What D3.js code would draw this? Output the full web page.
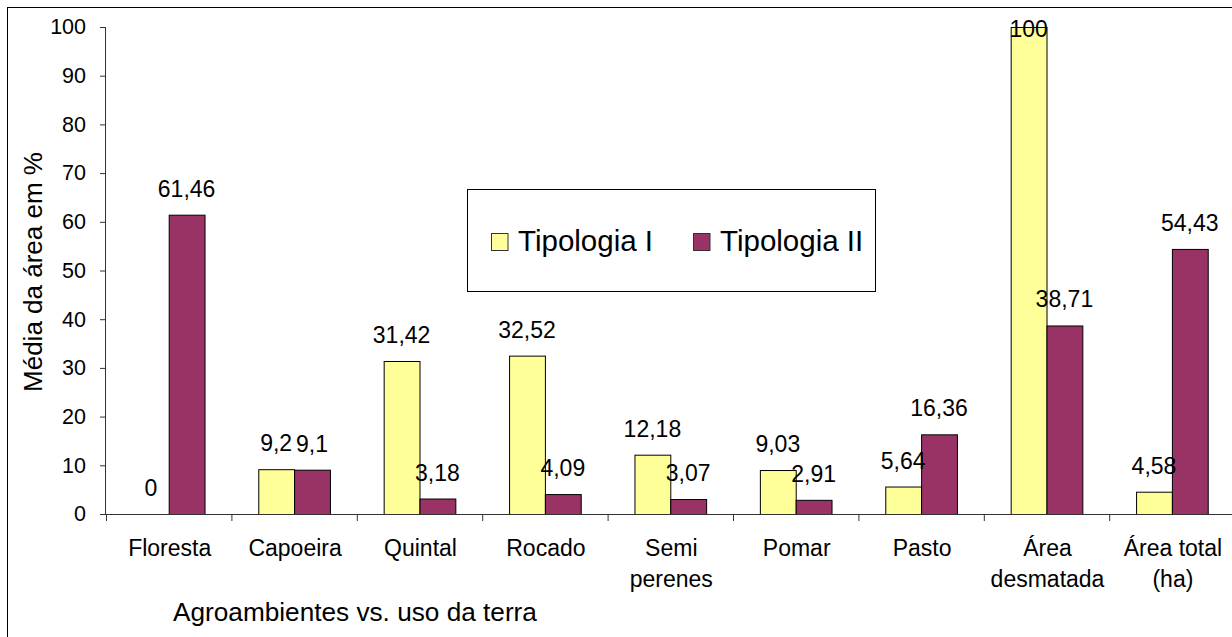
<!DOCTYPE html>
<html>
<head>
<meta charset="utf-8">
<script src="https://cdn.jsdelivr.net/npm/d3@7"></script>
<style>
  body { margin: 0; background: #fff; }
  svg text { font-family: "Liberation Sans", Arial, sans-serif; fill: #000; }
</style>
</head>
<body>
<svg id="chart" width="1232" height="637"></svg>
<script>
const categories = ['Floresta', 'Capoeira', 'Quintal', 'Rocado', 'Semi perenes', 'Pomar', 'Pasto', 'Área desmatada', 'Área total (ha)'];
// category labels as they wrap under the axis
const categoryLines = [['Floresta'], ['Capoeira'], ['Quintal'], ['Rocado'], ['Semi', 'perenes'], ['Pomar'], ['Pasto'], ['Área', 'desmatada'], ['Área total', '(ha)']];
const series = ['Tipologia I', 'Tipologia II'];
const tipologiaI = [0, 9.2, 31.42, 32.52, 12.18, 9.03, 5.64, 100, 4.58];
const tipologiaII = [61.46, 9.1, 3.18, 4.09, 3.07, 2.91, 16.36, 38.71, 54.43];
const colors = ['#ffff99', '#993366'];
const yTicks = [0, 10, 20, 30, 40, 50, 60, 70, 80, 90, 100];

const svg = d3.select('#chart');

// outer chart frame (runs off the right and bottom edges)
svg.append('rect')
  .attr('x', 7.5).attr('y', 7.5)
  .attr('width', 1260).attr('height', 660)
  .attr('fill', 'none').attr('stroke', '#000');

const plotLeft = 106, plotTop = 27, plotBottom = 514, plotRight = 1234.6;

const y = d3.scaleLinear().domain([0, 100]).range([plotBottom, plotTop]);

// Excel-like gap width of 150%
const x = d3.scaleBand()
  .domain(categories)
  .range([plotLeft, plotRight])
  .paddingInner(1.5 / 3.5)
  .paddingOuter(0.75 / 3.5);

const x1 = d3.scaleBand().domain(series).range([0, x.bandwidth()]);

const rows = categories.map((c, i) => ({ cat: c, values: [tipologiaI[i], tipologiaII[i]] }));

// y axis
const yAxis = svg.append('g')
  .attr('transform', `translate(${plotLeft},0)`)
  .call(d3.axisLeft(y).tickValues(yTicks).tickSize(6).tickPadding(14).tickFormat(d3.format('d')));
yAxis.select('.domain').attr('stroke', '#333').attr('d', `M-0.5,${plotTop}V${plotBottom}`);
yAxis.selectAll('.tick line').attr('stroke', '#333');
yAxis.selectAll('.tick text').attr('font-size', 21.5).attr('font-family', '"Liberation Sans", Arial, sans-serif');

// bars
const groups = svg.append('g')
  .selectAll('g')
  .data(rows)
  .join('g')
  .attr('transform', (d) => `translate(${x(d.cat)},0)`);

groups.selectAll('rect')
  .data((d) => d.values.map((v, j) => ({ key: series[j], value: v, color: colors[j] })))
  .join('rect')
  .attr('x', (d) => x1(d.key) + 0.5)
  .attr('y', (d) => y(d.value) + 0.5)
  .attr('width', x1.bandwidth())
  .attr('height', (d) => Math.max(0, y(0) - y(d.value)))
  .attr('fill', (d) => d.color)
  .attr('stroke', (d) => d.value > 0 ? '#000' : 'none')
  .attr('stroke-width', 1);

// value labels above the bars, kept inside the plot area
groups.selectAll('text')
  .data((d) => d.values.map((v, j) => ({ key: series[j], value: v })))
  .join('text')
  .attr('x', (d) => x1(d.key) + x1.bandwidth() / 2)
  .attr('y', (d) => Math.max(y(d.value) - 18, plotTop + 10))
  .attr('text-anchor', 'middle')
  .attr('font-size', 23)
  .text((d) => String(d.value).replace('.', ','));

// x axis line and category separators
svg.append('line')
  .attr('x1', plotLeft).attr('x2', 1232)
  .attr('y1', plotBottom + 0.5).attr('y2', plotBottom + 0.5)
  .attr('stroke', '#333');

svg.append('g')
  .selectAll('line')
  .data(d3.range(categories.length + 1))
  .join('line')
  .attr('x1', (i) => plotLeft + i * x.step() + 0.5)
  .attr('x2', (i) => plotLeft + i * x.step() + 0.5)
  .attr('y1', plotBottom)
  .attr('y2', plotBottom + 7)
  .attr('stroke', '#333');

// category labels
const catLabels = svg.append('g')
  .selectAll('text')
  .data(categories.map((c, i) => ({ cat: c, lines: categoryLines[i] })))
  .join('text')
  .attr('text-anchor', 'middle')
  .attr('font-size', 23);

catLabels.selectAll('tspan')
  .data((d) => d.lines.map((l) => ({ cat: d.cat, line: l })))
  .join('tspan')
  .attr('x', (d) => x(d.cat) + x.bandwidth() / 2 + 1)
  .attr('y', (d, i) => 556 + i * 31)
  .text((d) => d.line);

// axis titles
svg.append('text')
  .attr('transform', 'translate(41.5,272) rotate(-90)')
  .attr('text-anchor', 'middle')
  .attr('font-size', 26)
  .text('Média da área em %');

svg.append('text')
  .attr('x', 173)
  .attr('y', 621)
  .attr('font-size', 26.2)
  .text('Agroambientes vs. uso da terra');

// legend
const legend = svg.append('g');
legend.append('rect')
  .attr('x', 467.5).attr('y', 189.5)
  .attr('width', 408).attr('height', 102)
  .attr('fill', '#fff').attr('stroke', '#000');

const legendX = [491, 693];
const items = legend.selectAll('g')
  .data(series.map((s, i) => ({ name: s, color: colors[i], x: legendX[i] })))
  .join('g')
  .attr('transform', (d) => `translate(${d.x},0)`);

items.append('rect')
  .attr('x', 0.5).attr('y', 233.5)
  .attr('width', 16.5).attr('height', 17)
  .attr('fill', (d) => d.color)
  .attr('stroke', '#333');

items.append('text')
  .attr('x', 27)
  .attr('y', 251)
  .attr('font-size', 29.5)
  .text((d) => d.name);
</script>
</body>
</html>
